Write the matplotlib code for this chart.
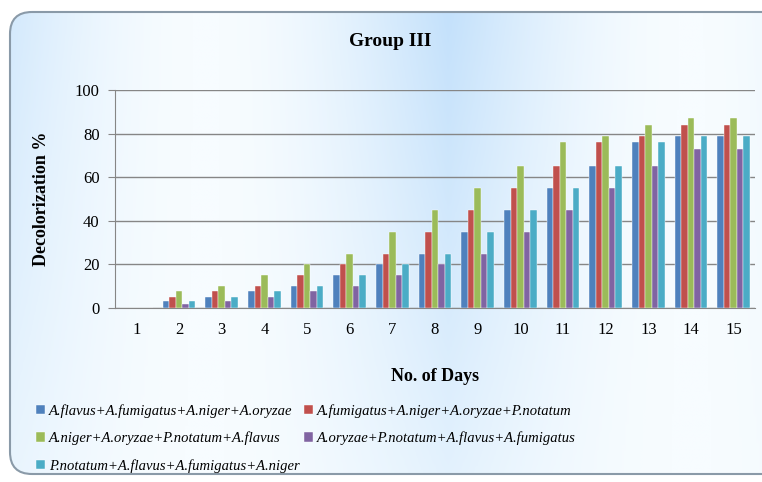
import numpy as np
import matplotlib
matplotlib.use("Agg")
import matplotlib.pyplot as plt
from matplotlib.patches import FancyBboxPatch

days = [str(d) for d in range(1, 16)]
series_names = [
    "A.flavus+A.fumigatus+A.niger+A.oryzae",
    "A.fumigatus+A.niger+A.oryzae+P.notatum",
    "A.niger+A.oryzae+P.notatum+A.flavus",
    "A.oryzae+P.notatum+A.flavus+A.fumigatus",
    "P.notatum+A.flavus+A.fumigatus+A.niger",
]
mix1 = [0, 3, 5, 8, 10, 15, 20, 25, 35, 45, 55, 65, 76, 79, 79]
mix2 = [0, 5, 8, 10, 15, 20, 25, 35, 45, 55, 65, 76, 79, 84, 84]
mix3 = [0, 8, 10, 15, 20, 25, 35, 45, 55, 65, 76, 79, 84, 87, 87]
mix4 = [0, 2, 3, 5, 8, 10, 15, 20, 25, 35, 45, 55, 65, 73, 73]
mix5 = [0, 3, 5, 8, 10, 15, 20, 25, 35, 45, 55, 65, 76, 79, 79]
colors = ["#4F81BD", "#C0504D", "#9BBB59", "#8064A2", "#4BACC6"]

serif = "Liberation Serif"

fig = plt.figure(figsize=(7.62, 4.82), dpi=100)
fig.patch.set_facecolor("white")

# rounded panel with a soft blue gradient, lighter towards the bottom
bg = fig.add_axes([0, 0, 1, 1], zorder=-5)
bg.set_xlim(0, 762)
bg.set_ylim(482, 0)
bg.axis("off")
gx = np.linspace(0, 1, 300)
gy = np.linspace(0, 1, 120)[:, None]
grad = 0.55 + 0.45 * np.abs(np.sin(np.pi * (gx * 1.6 + 0.1)))
grad = grad[None, :] * (1 - 0.6 * gy) + 1.0 * 0.6 * gy
cmap = matplotlib.colors.LinearSegmentedColormap.from_list("bl", ["#c4e1fb", "#f7fcff"])
panel = FancyBboxPatch((10, 12), 780, 462, boxstyle="round,pad=0,rounding_size=22",
                       facecolor="none", edgecolor="#8a9aa8", linewidth=1.5, zorder=3)
bg.add_patch(panel)
img = bg.imshow(grad, cmap=cmap, extent=[10, 790, 474, 12], aspect="auto", zorder=1,
                vmin=0.55, vmax=1.0)
img.set_clip_path(panel)

ax = fig.add_axes([115 / 762, 1 - 308 / 482, 640 / 762, 218 / 482])
ax.set_facecolor("none")

data = [mix1, mix2, mix3, mix4, mix5]
x = np.arange(len(days))
w = 0.152
bars = []
for i, (vals, c, name) in enumerate(zip(data, colors, series_names)):
    b = ax.bar(x + (i - 2) * w, vals, w, color=c, label=name, zorder=3,
               edgecolor="white", linewidth=0.3)
    bars.append(b)

ax.set_xlim(-0.5, len(days) - 0.5)
ax.set_ylim(0, 100)
ax.set_yticks(range(0, 101, 20))
ax.set_xticks(x)
ax.set_xticklabels(days)
ax.grid(axis="y", color="#868686", linewidth=1, zorder=0)
for s in ["top", "right"]:
    ax.spines[s].set_visible(False)
ax.spines["left"].set_color("#868686")
ax.spines["bottom"].set_color("#868686")
ax.tick_params(axis="x", length=0, pad=10)
ax.tick_params(axis="y", length=5, color="#868686", pad=6)
for lbl in ax.get_xticklabels() + ax.get_yticklabels():
    lbl.set_fontfamily(serif)
    lbl.set_fontsize(12)

ax.set_ylabel("Decolorization %", fontfamily=serif, fontsize=13, fontweight="bold", labelpad=18)
ax.set_xlabel("No. of Days", fontfamily=serif, fontsize=13, fontweight="bold", labelpad=22)
fig.text(390 / 762, 1 - 42 / 482, "Group III", ha="center", va="center",
         fontfamily=serif, fontsize=14, fontweight="bold")

# row-wise order: legend fills columns first
order = [0, 2, 4, 1, 3]
ax.legend([bars[i] for i in order], [series_names[i] for i in order],
          loc="upper left", bbox_to_anchor=(30 / 762, 1 - 398 / 482),
          bbox_transform=fig.transFigure, ncol=2, frameon=False,
          prop={"family": serif, "style": "italic", "size": 10.5},
          handlelength=0.6, handleheight=0.6, handletextpad=0.3,
          columnspacing=0.3, labelspacing=0.95, borderaxespad=0)

fig.savefig("out.png", dpi=100)
